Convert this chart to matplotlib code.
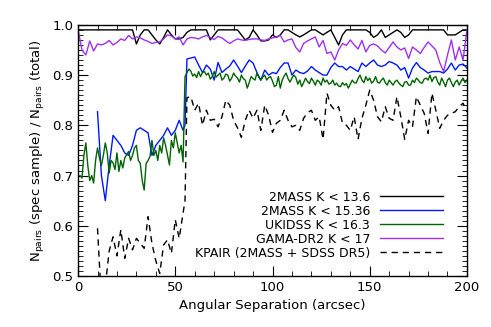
import numpy as np
import matplotlib
matplotlib.use("Agg")
import matplotlib.pyplot as plt
from matplotlib.ticker import MultipleLocator

# --- data ---
x_step2 = np.arange(0, 201, 2)

black_2mass_136 = [
    0.99, 0.99, 0.99, 0.99, 0.99, 0.99, 0.99, 0.99, 0.99, 0.99, 0.99, 0.99, 0.99, 0.99, 0.99,
    0.962, 0.98, 0.99, 0.99, 0.98, 0.97, 0.962, 0.975, 0.99, 0.98, 0.972, 0.972, 0.975, 0.985, 0.99,
    0.99, 0.99, 0.99, 0.99, 0.97, 0.98, 0.99, 0.99, 0.99, 0.99, 0.99, 0.99, 0.98, 0.97, 0.975,
    0.99, 0.98, 0.968, 0.968, 0.97, 0.98, 0.975, 0.98, 0.99, 0.99, 0.985, 0.98, 0.976, 0.98, 0.985,
    0.99, 0.99, 0.985, 0.98, 0.985, 0.99, 0.975, 0.96, 0.98, 0.99,
    0.99, 0.99, 0.99, 0.99, 0.99,
    0.985, 0.975, 0.98, 0.99, 0.975, 0.98, 0.985, 0.99, 0.985, 0.975, 0.98, 0.99,
    0.99, 0.99, 0.99, 0.99, 0.99, 0.99, 0.99, 0.99,
    0.98, 0.98, 0.98, 0.985, 0.99, 0.99,
]

purple_gama = [
    0.99, 0.95, 0.94, 0.968, 0.948, 0.962, 0.96, 0.963, 0.969, 0.96,
    0.965, 0.972, 0.969, 0.979, 0.972, 0.976, 0.974, 0.97, 0.967, 0.963,
    0.965, 0.966, 0.972, 0.98, 0.978, 0.972, 0.976, 0.96, 0.972, 0.975,
    0.974, 0.972, 0.976, 0.979, 0.975, 0.971, 0.977, 0.974, 0.968, 0.963,
    0.968, 0.972, 0.97, 0.969, 0.971, 0.972, 0.972, 0.97, 0.969, 0.972,
    0.974, 0.976, 0.979, 0.966, 0.97, 0.972, 0.955, 0.946, 0.963, 0.968,
    0.972, 0.976, 0.956, 0.969, 0.943, 0.946, 0.93, 0.95, 0.963, 0.959,
    0.97, 0.96, 0.952, 0.969, 0.946, 0.959, 0.962, 0.958, 0.95, 0.944,
    0.955, 0.966, 0.956, 0.95, 0.954, 0.933, 0.956, 0.95, 0.943, 0.955,
    0.966, 0.958, 0.95, 0.925, 0.907, 0.94, 0.97, 0.93, 0.956, 0.93,
    0.99,
]

x_green = np.arange(1, 201, 1)
green_ukidss = [
    0.700, 0.695, 0.740, 0.765, 0.720, 0.690, 0.700, 0.685, 0.730, 0.755,
    0.735, 0.720, 0.740, 0.765, 0.745, 0.705, 0.730, 0.725, 0.712, 0.745,
    0.708, 0.730, 0.715, 0.735, 0.742, 0.748, 0.730, 0.740, 0.755, 0.760,
    0.730, 0.724, 0.690, 0.671, 0.724, 0.730, 0.738, 0.770, 0.740, 0.750,
    0.730, 0.760, 0.745, 0.775, 0.760, 0.740, 0.721, 0.770, 0.755, 0.785,
    0.765, 0.745, 0.760, 0.727, 0.897,
    0.905, 0.912, 0.908, 0.898, 0.902, 0.895, 0.907, 0.897, 0.905, 0.907,
    0.900, 0.904, 0.892, 0.897, 0.907, 0.896, 0.900, 0.904, 0.890, 0.894,
    0.902, 0.900, 0.888, 0.894, 0.904, 0.898, 0.894, 0.886, 0.900, 0.893,
    0.890, 0.874, 0.885, 0.897, 0.893, 0.890, 0.904, 0.895, 0.890, 0.896,
    0.900, 0.890, 0.895, 0.897, 0.888, 0.877, 0.880, 0.897, 0.874, 0.890,
    0.898, 0.904, 0.893, 0.886, 0.894, 0.900, 0.895, 0.882, 0.890, 0.877,
    0.885, 0.894, 0.887, 0.883, 0.894, 0.888, 0.880, 0.890, 0.887, 0.880,
    0.894, 0.886, 0.890, 0.882, 0.884, 0.890, 0.880, 0.884, 0.878, 0.877,
    0.885, 0.880, 0.883, 0.874, 0.882, 0.890, 0.885, 0.884, 0.893, 0.900,
    0.890, 0.885, 0.897, 0.889, 0.894, 0.884, 0.888, 0.897, 0.886, 0.884,
    0.890, 0.894, 0.885, 0.880, 0.890, 0.885, 0.880, 0.887, 0.890, 0.884,
    0.880, 0.877, 0.886, 0.887, 0.880, 0.880, 0.890, 0.885, 0.894, 0.890,
    0.885, 0.884, 0.892, 0.894, 0.890, 0.900, 0.887, 0.895, 0.897, 0.886,
    0.880, 0.894, 0.886, 0.877, 0.890, 0.894, 0.885, 0.877, 0.886, 0.890,
    0.880, 0.888, 0.894, 0.885, 0.890,
]

# blue and KPAIR share a grid: 10..54 by 2, then 55, then 56..200 by 2
x_sparse = np.concatenate([np.arange(10, 55, 2), [55], np.arange(56, 201, 2)])
blue_2mass_1536 = [
    0.827, 0.700, 0.650, 0.720, 0.780, 0.770, 0.760, 0.745, 0.740, 0.760,
    0.790, 0.795, 0.790, 0.785, 0.740, 0.760, 0.770, 0.780, 0.795, 0.780,
    0.790, 0.810, 0.790,
    0.800,
    0.932, 0.934, 0.936, 0.920, 0.905, 0.920, 0.912, 0.890, 0.925, 0.905,
    0.912, 0.918, 0.930, 0.918, 0.905, 0.918, 0.930, 0.924, 0.905, 0.890,
    0.910, 0.900, 0.905, 0.903, 0.915, 0.924, 0.924, 0.900, 0.910, 0.905,
    0.903, 0.908, 0.917, 0.910, 0.905, 0.900, 0.900, 0.915, 0.924, 0.917,
    0.917, 0.910, 0.917, 0.912, 0.907, 0.924, 0.917, 0.924, 0.930, 0.920,
    0.917, 0.920, 0.927, 0.924, 0.920, 0.910, 0.915, 0.894, 0.914, 0.925,
    0.915, 0.910, 0.904, 0.907, 0.907, 0.907, 0.904, 0.912, 0.924, 0.910,
    0.920, 0.922, 0.914,
]
kpair = [
    0.595, 0.450, 0.480, 0.550, 0.578, 0.540, 0.592, 0.535, 0.575, 0.552,
    0.575, 0.565, 0.555, 0.618, 0.565, 0.530, 0.505, 0.562, 0.572, 0.545,
    0.612, 0.575, 0.625,
    0.650,
    0.855, 0.857, 0.830, 0.844, 0.800, 0.830, 0.810, 0.812, 0.797, 0.817,
    0.850, 0.840, 0.810, 0.795, 0.776, 0.810, 0.830, 0.814, 0.830, 0.790,
    0.840, 0.820, 0.786, 0.804, 0.810, 0.830, 0.810, 0.797, 0.800, 0.790,
    0.814, 0.825, 0.830, 0.810, 0.817, 0.772, 0.864, 0.840, 0.830, 0.837,
    0.804, 0.800, 0.790, 0.817, 0.772, 0.814, 0.840, 0.870, 0.850, 0.817,
    0.807, 0.837, 0.814, 0.810, 0.857, 0.817, 0.772, 0.810, 0.797, 0.857,
    0.840, 0.824, 0.784, 0.864, 0.830, 0.794, 0.810, 0.820, 0.824, 0.827,
    0.837, 0.844, 0.827,
]

fig = plt.figure(figsize=(4.91, 3.27), dpi=100)
ax = fig.add_axes([0.159, 0.156, 0.792, 0.768])

lw = 1.0
ax.plot(x_step2, black_2mass_136, color="black", lw=lw, label="2MASS K < 13.6")
ax.plot(x_sparse, blue_2mass_1536, color="#0018ff", lw=lw, label="2MASS K < 15.36")
ax.plot(x_green, green_ukidss, color="#006400", lw=lw, label="UKIDSS K < 16.3")
ax.plot(x_step2, purple_gama, color="#a030f0", lw=lw, label="GAMA-DR2 K < 17")
ax.plot(x_sparse, kpair, color="black", lw=lw, ls=(0, (4.5, 3.5)),
        label="KPAIR (2MASS + SDSS DR5)")

ax.set_xlim(0, 200)
ax.set_ylim(0.5, 1.0)
ax.xaxis.set_major_locator(MultipleLocator(50))
ax.xaxis.set_minor_locator(MultipleLocator(10))
ax.yaxis.set_major_locator(MultipleLocator(0.1))
ax.yaxis.set_minor_locator(MultipleLocator(0.01))
ax.tick_params(which="both", direction="in", top=True, right=True, labelsize=9.5)
ax.tick_params(which="major", length=7, width=0.8)
ax.tick_params(which="minor", length=3.5, width=0.6)
ax.yaxis.set_major_formatter(matplotlib.ticker.FormatStrFormatter("%.1f"))
for s in ax.spines.values():
    s.set_linewidth(1.0)

ax.set_xlabel("Angular Separation (arcsec)", fontsize=9.5)
ax.set_ylabel(r"N$_{\rm pairs}$ (spec sample) / N$_{\rm pairs}$ (total)", fontsize=9.5)

ax.legend(loc="lower right", frameon=False, markerfirst=False, fontsize=9,
          handlelength=5, handletextpad=0.8, labelspacing=0.08,
          borderaxespad=0.3, bbox_to_anchor=(0.96, 0.03))

fig.savefig("out.png", dpi=100)
